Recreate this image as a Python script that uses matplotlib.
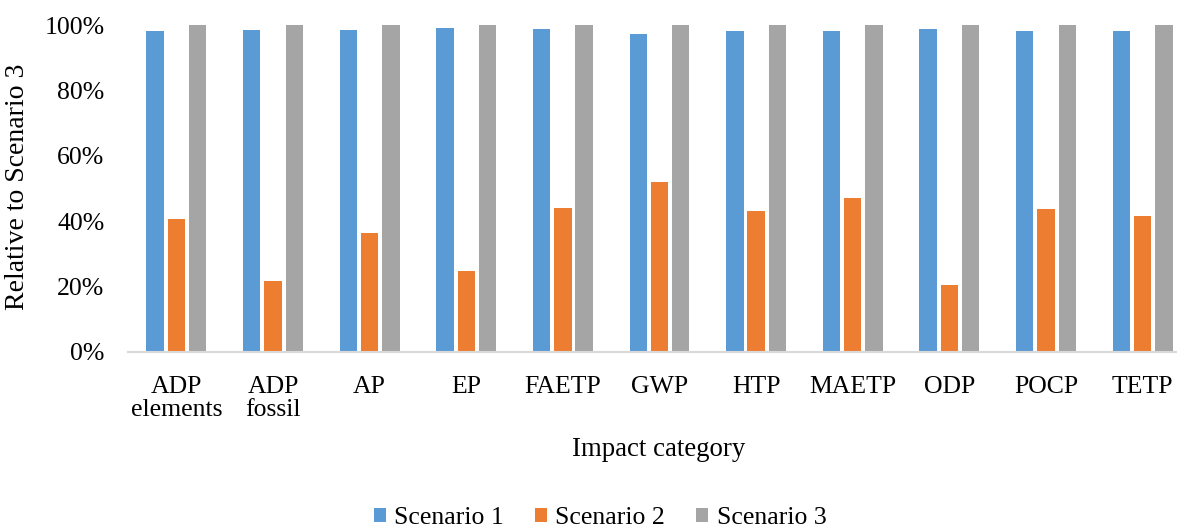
import numpy as np
import matplotlib.pyplot as plt
from matplotlib.ticker import PercentFormatter

plt.rcParams['font.family'] = ['Liberation Serif', 'DejaVu Serif']

categories = ['ADP\nelements', 'ADP\nfossil', 'AP', 'EP', 'FAETP', 'GWP',
              'HTP', 'MAETP', 'ODP', 'POCP', 'TETP']
scenario_1 = [98.2, 98.5, 98.5, 99.1, 98.8, 97.2, 98.2, 98.2, 98.8, 98.2, 98.2]
scenario_2 = [40.6, 21.6, 36.3, 24.7, 44.0, 51.9, 43.1, 47.0, 20.4, 43.7, 41.5]
scenario_3 = [100, 100, 100, 100, 100, 100, 100, 100, 100, 100, 100]

series = [('Scenario 1', scenario_1, '#5B9BD5'),
          ('Scenario 2', scenario_2, '#ED7D31'),
          ('Scenario 3', scenario_3, '#A5A5A5')]

W, H = 1177, 529
fig = plt.figure(figsize=(W / 100, H / 100), dpi=100)
# plot area runs a little past the right edge of the figure
ax = fig.add_axes([128 / W, 1 - 352 / H, (1191 - 128) / W, (352 - 25) / H])

x = np.arange(len(categories))
step = 0.22
for i, (name, vals, col) in enumerate(series):
    ax.bar(x + (i - 1) * step, vals, width=0.18, color=col, label=name, zorder=2)

ax.set_xlim(-0.5, len(categories) - 0.5)
ax.set_ylim(0, 100)
ax.set_yticks(range(0, 101, 20))
ax.yaxis.set_major_formatter(PercentFormatter(decimals=0))
ax.set_xticks(x)
ax.set_xticklabels(categories, linespacing=1.08)
ax.tick_params(axis='both', length=0, labelsize=18.5)
ax.tick_params(axis='x', pad=17)
ax.tick_params(axis='y', pad=17)

for side in ['top', 'right', 'left']:
    ax.spines[side].set_visible(False)
ax.spines['bottom'].set_color('#D9D9D9')
ax.spines['bottom'].set_linewidth(1.5)
ax.spines['bottom'].set_zorder(3)

fig.text(659 / W, 1 - 450 / H, 'Impact category', ha='center', va='center', fontsize=19.3)
fig.text(18 / W, 1 - 187 / H, 'Relative to Scenario 3', ha='center', va='center',
         rotation=90, fontsize=20)

handles, labels = ax.get_legend_handles_labels()
fig.legend(handles, labels, loc='center', bbox_to_anchor=(600 / W, 1 - 518 / H),
           ncol=3, frameon=False, fontsize=18.5, handlelength=0.48, handleheight=0.48,
           handletextpad=0.32, columnspacing=1.2, borderpad=0)

fig.savefig('out.png', dpi=100)
